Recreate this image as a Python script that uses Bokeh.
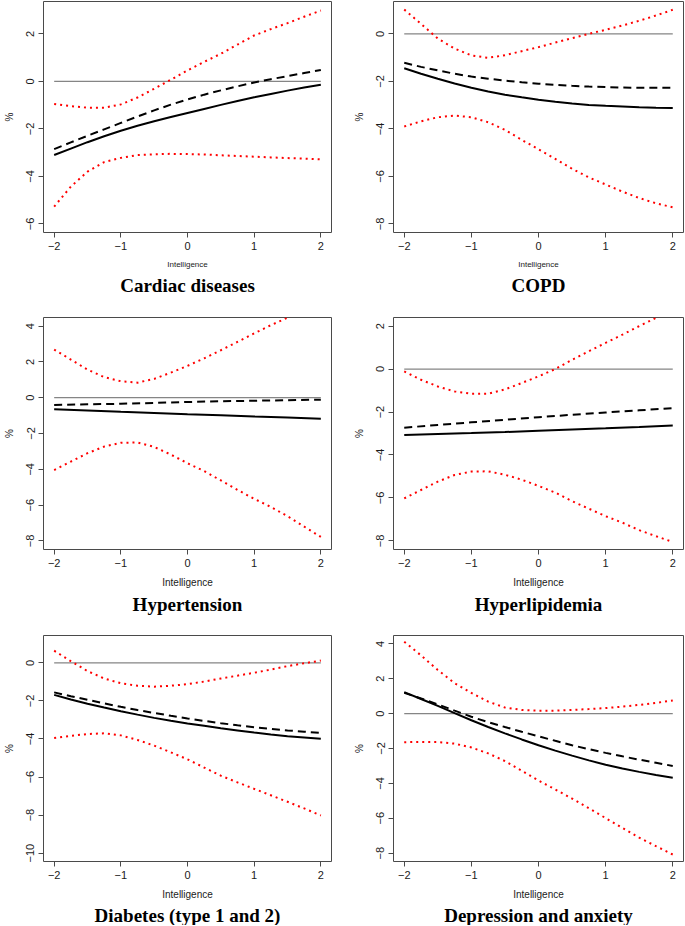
from bokeh.plotting import figure
from bokeh.models import Range1d, FixedTicker, Title
from bokeh.layouts import column, row
from bokeh.embed import file_html
from bokeh.resources import INLINE

# ---------------- data ----------------
x_fine = [-2, -1.75, -1.5, -1.25, -1, -0.75, -0.5, -0.25, 0,
          0.25, 0.5, 0.75, 1, 1.25, 1.5, 1.75, 2]
x_coarse = [-2, -1.5, -1, -0.5, 0, 0.5, 1, 1.5, 2]
x_ticks = [-2, -1, 0, 1, 2]
zero_level = 0

titles = ["Cardiac diseases", "COPD", "Hypertension", "Hyperlipidemia",
          "Diabetes (type 1 and 2)", "Depression and anxiety"]
x_label = "Intelligence"
y_label = "%"

# y limits as set in each panel and tick values
ylims = [(-6, 3), (-8, 1), (-8, 4), (-8, 2), (-10, 1), (-8, 4)]
yticks = [[-6, -4, -2, 0, 2], [-8, -6, -4, -2, 0], [-8, -6, -4, -2, 0, 2, 4],
          [-8, -6, -4, -2, 0, 2], [-10, -8, -6, -4, -2, 0], [-8, -6, -4, -2, 0, 2, 4]]

cardiac_solid = [-3.10, -2.83, -2.56, -2.31, -2.08, -1.87, -1.68, -1.50, -1.33,
                 -1.16, -0.99, -0.83, -0.67, -0.53, -0.39, -0.26, -0.14]
cardiac_dashed = [-2.85, -2.57, -2.29, -2.02, -1.75, -1.48, -1.22, -0.98, -0.76,
                  -0.56, -0.38, -0.21, -0.05, 0.09, 0.22, 0.35, 0.48]
cardiac_upper = [-0.95, -1.04, -1.11, -1.11, -0.97, -0.68, -0.31, 0.07, 0.46,
                 0.82, 1.16, 1.55, 1.93, 2.20, 2.45, 2.72, 2.98]
cardiac_lower = [-5.27, -4.43, -3.80, -3.40, -3.22, -3.10, -3.07, -3.05, -3.06,
                 -3.08, -3.11, -3.14, -3.17, -3.20, -3.23, -3.25, -3.28]

copd_solid = [-1.45, -1.68, -1.89, -2.09, -2.27, -2.43, -2.56, -2.67, -2.77,
              -2.86, -2.93, -2.99, -3.03, -3.06, -3.09, -3.11, -3.12]
copd_dashed = [-1.22, -1.39, -1.54, -1.68, -1.80, -1.89, -1.97, -2.04, -2.10,
               -2.15, -2.19, -2.22, -2.24, -2.26, -2.27, -2.27, -2.27]
copd_upper = [1.02, 0.42, -0.20, -0.62, -0.91, -1.01, -0.90, -0.73, -0.56,
              -0.37, -0.18, 0.00, 0.17, 0.35, 0.55, 0.77, 1.01]
copd_lower = [-3.90, -3.68, -3.51, -3.44, -3.51, -3.72, -4.04, -4.46, -4.86,
              -5.26, -5.68, -6.04, -6.34, -6.64, -6.91, -7.13, -7.30]

hyper_solid = [-0.64, -0.71, -0.79, -0.85, -0.92, -0.98, -1.05, -1.11, -1.18]
hyper_dashed = [-0.41, -0.37, -0.34, -0.29, -0.24, -0.20, -0.17, -0.14, -0.11]
hyper_upper = [2.69, 2.13, 1.57, 1.15, 0.92, 0.84, 1.05, 1.40, 1.78,
               2.20, 2.65, 3.12, 3.59, 4.05, 4.47, 4.90, 5.30]
hyper_lower = [-4.04, -3.57, -3.10, -2.73, -2.52, -2.50, -2.75, -3.18, -3.66,
               -4.10, -4.62, -5.15, -5.65, -6.10, -6.62, -7.20, -7.78]

lipid_solid = [-3.07, -3.02, -2.98, -2.93, -2.87, -2.81, -2.76, -2.70, -2.63]
lipid_dashed = [-2.73, -2.60, -2.48, -2.36, -2.24, -2.13, -2.02, -1.92, -1.82]
lipid_upper = [-0.11, -0.50, -0.81, -1.04, -1.15, -1.15, -0.95, -0.65, -0.34,
               0.00, 0.43, 0.83, 1.22, 1.60, 2.00, 2.38, 2.75]
lipid_lower = [-6.02, -5.63, -5.24, -4.93, -4.77, -4.76, -4.92, -5.15, -5.44,
               -5.75, -6.15, -6.50, -6.85, -7.15, -7.50, -7.78, -8.05]

diab_solid = [-1.68, -1.92, -2.15, -2.35, -2.54, -2.72, -2.89, -3.04, -3.18,
              -3.31, -3.44, -3.55, -3.66, -3.76, -3.85, -3.92, -3.99]
diab_dashed = [-1.55, -1.75, -1.94, -2.13, -2.31, -2.48, -2.63, -2.78, -2.92,
               -3.05, -3.17, -3.28, -3.38, -3.47, -3.55, -3.62, -3.68]
diab_upper = [0.64, 0.09, -0.43, -0.82, -1.07, -1.20, -1.25, -1.20, -1.12,
              -0.98, -0.82, -0.67, -0.52, -0.35, -0.17, -0.02, 0.12]
diab_lower = [-3.95, -3.83, -3.74, -3.70, -3.81, -4.05, -4.35, -4.70, -5.07,
              -5.50, -5.93, -6.28, -6.62, -6.96, -7.30, -7.65, -8.02]

depr_solid = [1.23, 0.84, 0.44, 0.03, -0.38, -0.77, -1.13, -1.48, -1.81,
              -2.12, -2.41, -2.68, -2.93, -3.15, -3.34, -3.52, -3.68]
depr_dashed = [1.19, 0.87, 0.53, 0.17, -0.18, -0.49, -0.77, -1.04, -1.30,
               -1.56, -1.81, -2.04, -2.25, -2.45, -2.64, -2.82, -3.00]
depr_upper = [4.12, 3.34, 2.50, 1.75, 1.19, 0.69, 0.35, 0.21, 0.17,
              0.17, 0.21, 0.26, 0.32, 0.40, 0.50, 0.62, 0.75]
depr_lower = [-1.64, -1.62, -1.63, -1.72, -1.94, -2.28, -2.72, -3.27, -3.84,
              -4.35, -4.87, -5.43, -5.99, -6.55, -7.11, -7.60, -8.08]

# (x of fitted lines, solid, dashed, upper bound, lower bound)
panels = [
    (x_fine, cardiac_solid, cardiac_dashed, cardiac_upper, cardiac_lower),
    (x_fine, copd_solid, copd_dashed, copd_upper, copd_lower),
    (x_coarse, hyper_solid, hyper_dashed, hyper_upper, hyper_lower),
    (x_coarse, lipid_solid, lipid_dashed, lipid_upper, lipid_lower),
    (x_fine, diab_solid, diab_dashed, diab_upper, diab_lower),
    (x_fine, depr_solid, depr_dashed, depr_upper, depr_lower),
]

# ---------------- styling ----------------
SANS = "Liberation Sans"
SERIF = "Liberation Serif"
FRAME = "#4a4a4a"
TEXT = "#1a1a1a"


def fmt(v):
    s = str(int(v)) if float(v).is_integer() else str(v)
    return s.replace("-", "\u2212")


def make_panel(i, width, height, left, right, top, bottom, xlab_size, title_standoff):
    xf, solid, dashed, upper, lower = panels[i]
    lo, hi = ylims[i]
    ypad = 0.04 * (hi - lo)
    xpad = 0.04 * (x_fine[-1] - x_fine[0])
    p = figure(width=width, height=height, output_backend="svg", toolbar_location=None,
               x_range=Range1d(x_fine[0] - xpad, x_fine[-1] + xpad),
               y_range=Range1d(lo - ypad, hi + ypad),
               min_border_left=left, min_border_right=right,
               min_border_top=top, min_border_bottom=bottom)
    p.grid.visible = False
    p.outline_line_color = FRAME
    p.outline_line_width = 1
    p.background_fill_color = "white"
    p.border_fill_color = "white"

    # reference line at zero
    p.line([x_fine[0], x_fine[-1]], [zero_level, zero_level], line_color="#858585", line_width=1.2)
    # confidence bounds (red dotted)
    p.line(x_fine, upper, line_color="#ff0000", line_width=2, line_dash="2 4")
    p.line(x_fine, lower, line_color="#ff0000", line_width=2, line_dash="2 4")
    # fitted lines
    p.line(xf, dashed, line_color="black", line_width=2, line_dash="8 5")
    p.line(xf, solid, line_color="black", line_width=2)

    for ax in (p.xaxis[0], p.yaxis[0]):
        ax.axis_line_color = None
        ax.major_tick_line_color = FRAME
        ax.major_tick_out = 5
        ax.major_tick_in = 0
        ax.minor_tick_line_color = None
        ax.major_label_text_font = SANS
        ax.major_label_text_font_size = "11px"
        ax.major_label_text_color = TEXT
        ax.axis_label_text_font = SANS
        ax.axis_label_text_font_style = "normal"
        ax.axis_label_text_color = TEXT

    p.xaxis.ticker = FixedTicker(ticks=x_ticks)
    p.xaxis.major_label_overrides = {t: fmt(t) for t in x_ticks}
    p.xaxis.major_label_standoff = 4
    p.xaxis.axis_label = x_label
    p.xaxis.axis_label_text_font_size = xlab_size
    p.xaxis.axis_label_standoff = 7

    p.yaxis.ticker = FixedTicker(ticks=yticks[i])
    p.yaxis.major_label_overrides = {t: fmt(t) for t in yticks[i]}
    p.yaxis.major_label_orientation = "vertical"
    p.yaxis.major_label_standoff = 4
    p.yaxis.axis_label = y_label
    p.yaxis.axis_label_text_font_size = "10px"
    p.yaxis.axis_label_standoff = 9

    t = Title(text=titles[i], align="center", text_font=SERIF, text_font_style="bold",
              text_font_size="19px", text_color="black", standoff=title_standoff)
    p.add_layout(t, "below")
    return p


row_specs = [  # height, top, bottom, xlabel size, title standoff
    (310, 1, 78, "8px", 2),
    (318, 7, 79, "10px", 3),
    (297, 7, 60, "10px", 0),
]

rows = []
for r, (h, top, bot, xs, ts) in enumerate(row_specs):
    pl = make_panel(2 * r, 342, h, 40, 11, top, bot, xs, ts)
    pr = make_panel(2 * r + 1, 342, h, 51, 1, top, bot, xs, ts)
    rows.append(row(pl, pr))

layout = column(*rows)
open("out.html", "w").write(file_html(layout, INLINE))
